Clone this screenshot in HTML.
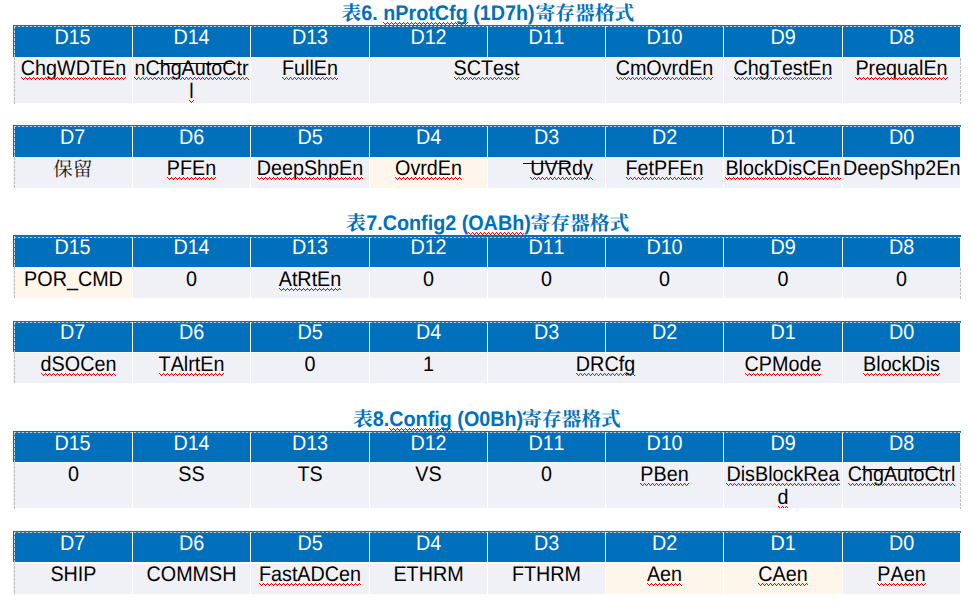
<!DOCTYPE html>
<html><head><meta charset="utf-8"><title>Register formats</title><style>
html,body{margin:0;padding:0;background:#fff;}
body{width:971px;height:603px;position:relative;overflow:hidden;font-family:"Liberation Sans",sans-serif;font-size:19.75px;line-height:24px;color:#000;font-kerning:none;font-variant-ligatures:none;text-rendering:geometricPrecision;}
.a{position:absolute;}
.h{position:absolute;background:#006FBC;}
.ht{position:absolute;text-align:center;color:#fff;white-space:nowrap;height:24px;}
.b{position:absolute;background:#F0F1F6;overflow:hidden;}
.cr{background:#FEF6EA;}
.l{position:absolute;left:0;width:100%;height:24px;text-align:center;white-space:nowrap;}
.s{display:inline-block;height:24px;transform:scaleY(1.07);transform-origin:0 18.84px;}
.w{position:relative;display:inline-block;height:24px;vertical-align:top;}
.w>i{position:absolute;left:0;top:20.04px;width:100%;height:3px;background:linear-gradient(90deg,#f00 1px,transparent 1px) 0 0/4px 1px repeat-x,linear-gradient(90deg,#f00 1px,transparent 1px) 1px 1px/4px 1px repeat-x,linear-gradient(90deg,#f00 1px,transparent 1px) 2px 2px/4px 1px repeat-x,linear-gradient(90deg,#f00 1px,transparent 1px) 3px 1px/4px 1px repeat-x;}
.t{position:absolute;left:0;width:974.8px;height:24px;text-align:center;white-space:nowrap;color:#006FBC;font-weight:bold;}
.t .s{vertical-align:top;white-space:pre;}
.g{display:inline-block;vertical-align:top;overflow:visible;height:24px;line-height:24px;font-size:19.75px;white-space:nowrap;text-align:left;font-family:"Liberation Serif","Noto Serif CJK SC",serif;}
.ln{position:absolute;height:1px;background:#111;z-index:6;}
.dt{position:absolute;height:1px;z-index:5;background:repeating-linear-gradient(90deg,rgba(240,228,208,.8) 0 2px,rgba(255,255,255,.13) 2.4px 3.6px,rgba(240,228,208,.8) 4px);}
.dl{position:absolute;width:1px;z-index:5;background:repeating-linear-gradient(180deg,#bcbcbc 0 2.7px,transparent 2.7px 4px);}
.dlw{position:absolute;width:1px;z-index:5;background:repeating-linear-gradient(180deg,rgba(240,228,208,.8) 0 2.6px,rgba(255,255,255,.13) 2.9px 3.7px,rgba(240,228,208,.8) 4px);}
.v{position:absolute;width:1px;background:#fff;z-index:3;}
</style></head><body>
<div class="h" style="left:13px;top:25px;width:947px;height:32px"></div>
<div class="ht" style="left:13px;top:26px;width:119px"><span class="s">D15</span></div>
<div class="ht" style="left:133px;top:26px;width:117px"><span class="s">D14</span></div>
<div class="ht" style="left:251px;top:26px;width:118px"><span class="s">D13</span></div>
<div class="ht" style="left:370px;top:26px;width:117px"><span class="s">D12</span></div>
<div class="ht" style="left:488px;top:26px;width:117px"><span class="s">D11</span></div>
<div class="ht" style="left:606px;top:26px;width:117px"><span class="s">D10</span></div>
<div class="ht" style="left:724px;top:26px;width:118px"><span class="s">D9</span></div>
<div class="ht" style="left:843px;top:26px;width:117px"><span class="s">D8</span></div>
<div class="v" style="left:132px;top:26px;height:77px"></div>
<div class="v" style="left:250px;top:26px;height:77px"></div>
<div class="v" style="left:369px;top:26px;height:77px"></div>
<div class="v" style="left:487px;top:26px;height:77px"></div>
<div class="v" style="left:605px;top:26px;height:77px"></div>
<div class="v" style="left:723px;top:26px;height:77px"></div>
<div class="v" style="left:842px;top:26px;height:77px"></div>
<div class="b" style="left:13px;top:58px;width:119px;height:45px;z-index:1"><div class="l" style="top:-1px;left:1px"><span class="w"><span class="s">ChgWDTEn</span><i></i></span></div></div>
<div class="b" style="left:133px;top:58px;width:117px;height:45px;z-index:1"><div class="l" style="top:-1px"><span class="w"><span class="s">nChgAutoCtr</span><i></i></span></div><div class="l" style="top:22px"><span class="w"><span class="s">l</span><i></i></span></div></div>
<div class="b" style="left:251px;top:58px;width:118px;height:45px;z-index:1"><div class="l" style="top:-1px"><span class="w"><span class="s">FullEn</span><i></i></span></div></div>
<div class="b" style="left:370px;top:58px;width:235px;height:45px;z-index:4"><div class="l" style="top:-1px;left:-1px"><span class="w"><span class="s">SCTest</span><i></i></span></div></div>
<div class="b" style="left:606px;top:58px;width:117px;height:45px;z-index:1"><div class="l" style="top:-1px"><span class="w"><span class="s">CmOvrdEn</span><i></i></span></div></div>
<div class="b" style="left:724px;top:58px;width:118px;height:45px;z-index:1"><div class="l" style="top:-1px"><span class="w"><span class="s">ChgTestEn</span><i></i></span></div></div>
<div class="b" style="left:843px;top:58px;width:117px;height:45px;z-index:1"><div class="l" style="top:-1px"><span class="w"><span class="s">PrequalEn</span><i></i></span></div></div>
<div class="dt" style="left:14px;top:26px;width:947px"></div>
<div class="dlw" style="left:14px;top:26px;height:31px"></div>
<div class="dl" style="left:14px;top:57px;height:47px"></div>
<div class="dl" style="left:960px;top:58px;height:46px"></div>
<div class="h" style="left:960px;top:25px;width:1px;height:2px"></div>
<div class="h" style="left:13px;top:125px;width:947px;height:32px"></div>
<div class="ht" style="left:13px;top:126px;width:119px"><span class="s">D7</span></div>
<div class="ht" style="left:133px;top:126px;width:117px"><span class="s">D6</span></div>
<div class="ht" style="left:251px;top:126px;width:118px"><span class="s">D5</span></div>
<div class="ht" style="left:370px;top:126px;width:117px"><span class="s">D4</span></div>
<div class="ht" style="left:488px;top:126px;width:117px"><span class="s">D3</span></div>
<div class="ht" style="left:606px;top:126px;width:117px"><span class="s">D2</span></div>
<div class="ht" style="left:724px;top:126px;width:118px"><span class="s">D1</span></div>
<div class="ht" style="left:843px;top:126px;width:117px"><span class="s">D0</span></div>
<div class="v" style="left:132px;top:126px;height:62px"></div>
<div class="v" style="left:250px;top:126px;height:62px"></div>
<div class="v" style="left:369px;top:126px;height:62px"></div>
<div class="v" style="left:487px;top:126px;height:62px"></div>
<div class="v" style="left:605px;top:126px;height:62px"></div>
<div class="v" style="left:723px;top:126px;height:62px"></div>
<div class="v" style="left:842px;top:126px;height:62px"></div>
<div class="b" style="left:13px;top:158px;width:119px;height:30px;z-index:1"><div class="l" style="top:-1px;left:0.3px"><span class="g" style="width:39.5px;color:#1c1c1c;font-weight:normal;position:relative;top:1.1px">保留</span></div></div>
<div class="b" style="left:133px;top:158px;width:117px;height:30px;z-index:1"><div class="l" style="top:-1px"><span class="w"><span class="s">PFEn</span><i></i></span></div></div>
<div class="b" style="left:251px;top:158px;width:118px;height:30px;z-index:1"><div class="l" style="top:-1px"><span class="w"><span class="s">DeepShpEn</span><i></i></span></div></div>
<div class="b cr" style="left:370px;top:158px;width:117px;height:30px;z-index:1"><div class="l" style="top:-1px"><span class="w"><span class="s">OvrdEn</span><i></i></span></div></div>
<div class="b" style="left:488px;top:158px;width:117px;height:30px;z-index:1"><div class="l" style="top:-1px;left:15px"><span class="w"><span class="s">UVRdy</span><i></i></span></div></div>
<div class="b" style="left:606px;top:158px;width:117px;height:30px;z-index:1"><div class="l" style="top:-1px"><span class="w"><span class="s">FetPFEn</span><i></i></span></div></div>
<div class="b" style="left:724px;top:158px;width:118px;height:30px;z-index:1"><div class="l" style="top:-1px"><span class="w"><span class="s">BlockDisCEn</span><i></i></span></div></div>
<div class="b" style="left:843px;top:158px;width:117px;height:30px;z-index:1"><div class="l" style="top:-1px"><span class="s">DeepShp2En</span></div></div>
<div class="dt" style="left:14px;top:126px;width:947px"></div>
<div class="dlw" style="left:14px;top:126px;height:31px"></div>
<div class="dl" style="left:14px;top:157px;height:32px"></div>
<div class="h" style="left:960px;top:125px;width:1px;height:2px"></div>
<div class="h" style="left:13px;top:235px;width:947px;height:32px"></div>
<div class="ht" style="left:13px;top:236px;width:119px"><span class="s">D15</span></div>
<div class="ht" style="left:133px;top:236px;width:117px"><span class="s">D14</span></div>
<div class="ht" style="left:251px;top:236px;width:118px"><span class="s">D13</span></div>
<div class="ht" style="left:370px;top:236px;width:117px"><span class="s">D12</span></div>
<div class="ht" style="left:488px;top:236px;width:117px"><span class="s">D11</span></div>
<div class="ht" style="left:606px;top:236px;width:117px"><span class="s">D10</span></div>
<div class="ht" style="left:724px;top:236px;width:118px"><span class="s">D9</span></div>
<div class="ht" style="left:843px;top:236px;width:117px"><span class="s">D8</span></div>
<div class="v" style="left:132px;top:237px;height:61px"></div>
<div class="v" style="left:250px;top:237px;height:61px"></div>
<div class="v" style="left:369px;top:237px;height:61px"></div>
<div class="v" style="left:487px;top:237px;height:61px"></div>
<div class="v" style="left:605px;top:237px;height:61px"></div>
<div class="v" style="left:723px;top:237px;height:61px"></div>
<div class="v" style="left:842px;top:237px;height:61px"></div>
<div class="b cr" style="left:13px;top:268px;width:119px;height:30px;z-index:1"><div class="l" style="top:0px;left:1px"><span class="s">POR_CMD</span></div></div>
<div class="b" style="left:133px;top:268px;width:117px;height:30px;z-index:1"><div class="l" style="top:0px"><span class="s">0</span></div></div>
<div class="b" style="left:251px;top:268px;width:118px;height:30px;z-index:1"><div class="l" style="top:0px"><span class="w"><span class="s">AtRtEn</span><i></i></span></div></div>
<div class="b" style="left:370px;top:268px;width:117px;height:30px;z-index:1"><div class="l" style="top:0px"><span class="s">0</span></div></div>
<div class="b" style="left:488px;top:268px;width:117px;height:30px;z-index:1"><div class="l" style="top:0px"><span class="s">0</span></div></div>
<div class="b" style="left:606px;top:268px;width:117px;height:30px;z-index:1"><div class="l" style="top:0px"><span class="s">0</span></div></div>
<div class="b" style="left:724px;top:268px;width:118px;height:30px;z-index:1"><div class="l" style="top:0px"><span class="s">0</span></div></div>
<div class="b" style="left:843px;top:268px;width:117px;height:30px;z-index:1"><div class="l" style="top:0px"><span class="s">0</span></div></div>
<div class="dt" style="left:14px;top:237px;width:947px"></div>
<div class="dlw" style="left:14px;top:236px;height:31px"></div>
<div class="dl" style="left:14px;top:267px;height:32px"></div>
<div class="dl" style="left:960px;top:268px;height:31px"></div>
<div class="h" style="left:960px;top:235px;width:1px;height:2px"></div>
<div class="h" style="left:13px;top:321px;width:947px;height:31px"></div>
<div class="ht" style="left:13px;top:321px;width:119px"><span class="s">D7</span></div>
<div class="ht" style="left:133px;top:321px;width:117px"><span class="s">D6</span></div>
<div class="ht" style="left:251px;top:321px;width:118px"><span class="s">D5</span></div>
<div class="ht" style="left:370px;top:321px;width:117px"><span class="s">D4</span></div>
<div class="ht" style="left:488px;top:321px;width:117px"><span class="s">D3</span></div>
<div class="ht" style="left:606px;top:321px;width:117px"><span class="s">D2</span></div>
<div class="ht" style="left:724px;top:321px;width:118px"><span class="s">D1</span></div>
<div class="ht" style="left:843px;top:321px;width:117px"><span class="s">D0</span></div>
<div class="v" style="left:132px;top:322px;height:61px"></div>
<div class="v" style="left:250px;top:322px;height:61px"></div>
<div class="v" style="left:369px;top:322px;height:61px"></div>
<div class="v" style="left:487px;top:322px;height:61px"></div>
<div class="v" style="left:605px;top:322px;height:61px"></div>
<div class="v" style="left:723px;top:322px;height:61px"></div>
<div class="v" style="left:842px;top:322px;height:61px"></div>
<div class="b" style="left:13px;top:353px;width:119px;height:30px;z-index:1"><div class="l" style="top:0px;left:6px"><span class="w"><span class="s">dSOCen</span><i></i></span></div></div>
<div class="b" style="left:133px;top:353px;width:117px;height:30px;z-index:1"><div class="l" style="top:0px"><span class="w"><span class="s">TAlrtEn</span><i></i></span></div></div>
<div class="b" style="left:251px;top:353px;width:118px;height:30px;z-index:1"><div class="l" style="top:0px"><span class="s">0</span></div></div>
<div class="b" style="left:370px;top:353px;width:117px;height:30px;z-index:1"><div class="l" style="top:0px"><span class="s">1</span></div></div>
<div class="b" style="left:488px;top:353px;width:235px;height:30px;z-index:4"><div class="l" style="top:0px"><span class="w"><span class="s">DRCfg</span><i></i></span></div></div>
<div class="b" style="left:724px;top:353px;width:118px;height:30px;z-index:1"><div class="l" style="top:0px"><span class="w"><span class="s">CPMode</span><i></i></span></div></div>
<div class="b" style="left:843px;top:353px;width:117px;height:30px;z-index:1"><div class="l" style="top:0px"><span class="w"><span class="s">BlockDis</span><i></i></span></div></div>
<div class="dt" style="left:14px;top:322px;width:947px"></div>
<div class="dlw" style="left:14px;top:322px;height:30px"></div>
<div class="dl" style="left:14px;top:352px;height:32px"></div>
<div class="h" style="left:960px;top:321px;width:1px;height:2px"></div>
<div class="h" style="left:13px;top:431px;width:947px;height:31px"></div>
<div class="ht" style="left:13px;top:432px;width:119px"><span class="s">D15</span></div>
<div class="ht" style="left:133px;top:432px;width:117px"><span class="s">D14</span></div>
<div class="ht" style="left:251px;top:432px;width:118px"><span class="s">D13</span></div>
<div class="ht" style="left:370px;top:432px;width:117px"><span class="s">D12</span></div>
<div class="ht" style="left:488px;top:432px;width:117px"><span class="s">D11</span></div>
<div class="ht" style="left:606px;top:432px;width:117px"><span class="s">D10</span></div>
<div class="ht" style="left:724px;top:432px;width:118px"><span class="s">D9</span></div>
<div class="ht" style="left:843px;top:432px;width:117px"><span class="s">D8</span></div>
<div class="v" style="left:132px;top:432px;height:76px"></div>
<div class="v" style="left:250px;top:432px;height:76px"></div>
<div class="v" style="left:369px;top:432px;height:76px"></div>
<div class="v" style="left:487px;top:432px;height:76px"></div>
<div class="v" style="left:605px;top:432px;height:76px"></div>
<div class="v" style="left:723px;top:432px;height:76px"></div>
<div class="v" style="left:842px;top:432px;height:76px"></div>
<div class="b" style="left:13px;top:463px;width:119px;height:45px;z-index:1"><div class="l" style="top:0px;left:1px"><span class="s">0</span></div></div>
<div class="b" style="left:133px;top:463px;width:117px;height:45px;z-index:1"><div class="l" style="top:0px"><span class="s">SS</span></div></div>
<div class="b" style="left:251px;top:463px;width:118px;height:45px;z-index:1"><div class="l" style="top:0px"><span class="s">TS</span></div></div>
<div class="b" style="left:370px;top:463px;width:117px;height:45px;z-index:1"><div class="l" style="top:0px"><span class="s">VS</span></div></div>
<div class="b" style="left:488px;top:463px;width:117px;height:45px;z-index:1"><div class="l" style="top:0px"><span class="s">0</span></div></div>
<div class="b" style="left:606px;top:463px;width:117px;height:45px;z-index:1"><div class="l" style="top:0px"><span class="w"><span class="s">PBen</span><i></i></span></div></div>
<div class="b" style="left:724px;top:463px;width:118px;height:45px;z-index:1"><div class="l" style="top:0px"><span class="w"><span class="s">DisBlockRea</span><i></i></span></div><div class="l" style="top:23px"><span class="w"><span class="s">d</span><i></i></span></div></div>
<div class="b" style="left:843px;top:463px;width:117px;height:45px;z-index:1"><div class="l" style="top:0px"><span class="w"><span class="s">ChgAutoCtrl</span><i></i></span></div></div>
<div class="dt" style="left:14px;top:432px;width:947px"></div>
<div class="dlw" style="left:14px;top:432px;height:30px"></div>
<div class="dl" style="left:14px;top:462px;height:47px"></div>
<div class="dl" style="left:960px;top:463px;height:46px"></div>
<div class="h" style="left:960px;top:431px;width:1px;height:2px"></div>
<div class="h" style="left:13px;top:531px;width:947px;height:31px"></div>
<div class="ht" style="left:13px;top:532px;width:119px"><span class="s">D7</span></div>
<div class="ht" style="left:133px;top:532px;width:117px"><span class="s">D6</span></div>
<div class="ht" style="left:251px;top:532px;width:118px"><span class="s">D5</span></div>
<div class="ht" style="left:370px;top:532px;width:117px"><span class="s">D4</span></div>
<div class="ht" style="left:488px;top:532px;width:117px"><span class="s">D3</span></div>
<div class="ht" style="left:606px;top:532px;width:117px"><span class="s">D2</span></div>
<div class="ht" style="left:724px;top:532px;width:118px"><span class="s">D1</span></div>
<div class="ht" style="left:843px;top:532px;width:117px"><span class="s">D0</span></div>
<div class="v" style="left:132px;top:532px;height:62px"></div>
<div class="v" style="left:250px;top:532px;height:62px"></div>
<div class="v" style="left:369px;top:532px;height:62px"></div>
<div class="v" style="left:487px;top:532px;height:62px"></div>
<div class="v" style="left:605px;top:532px;height:62px"></div>
<div class="v" style="left:723px;top:532px;height:62px"></div>
<div class="v" style="left:842px;top:532px;height:62px"></div>
<div class="b" style="left:13px;top:564px;width:119px;height:30px;z-index:1"><div class="l" style="top:-1px;left:1px"><span class="s">SHIP</span></div></div>
<div class="b" style="left:133px;top:564px;width:117px;height:30px;z-index:1"><div class="l" style="top:-1px"><span class="s">COMMSH</span></div></div>
<div class="b" style="left:251px;top:564px;width:118px;height:30px;z-index:1"><div class="l" style="top:-1px"><span class="w"><span class="s">FastADCen</span><i></i></span></div></div>
<div class="b" style="left:370px;top:564px;width:117px;height:30px;z-index:1"><div class="l" style="top:-1px"><span class="s">ETHRM</span></div></div>
<div class="b" style="left:488px;top:564px;width:117px;height:30px;z-index:1"><div class="l" style="top:-1px"><span class="s">FTHRM</span></div></div>
<div class="b cr" style="left:606px;top:564px;width:117px;height:30px;z-index:1"><div class="l" style="top:-1px"><span class="w"><span class="s">Aen</span><i></i></span></div></div>
<div class="b cr" style="left:724px;top:564px;width:118px;height:30px;z-index:1"><div class="l" style="top:-1px"><span class="w"><span class="s">CAen</span><i></i></span></div></div>
<div class="b" style="left:843px;top:564px;width:117px;height:30px;z-index:1"><div class="l" style="top:-1px"><span class="w"><span class="s">PAen</span><i></i></span></div></div>
<div class="dt" style="left:14px;top:532px;width:947px"></div>
<div class="dlw" style="left:14px;top:532px;height:30px"></div>
<div class="dl" style="left:14px;top:562px;height:33px"></div>
<div class="h" style="left:960px;top:531px;width:1px;height:2px"></div>
<div class="t" style="top:2px;left:0px"><span class="g" style="width:19.75px;margin-left:1px;margin-right:0px;position:relative;top:-0.5px">表</span><span class="s">6. </span><span class="w"><span class="s">nProtCfg</span><i></i></span><span class="s"> (1D7h)</span><span class="g" style="width:98.75px;margin-left:0.8px;margin-right:0px;position:relative;top:-0.5px">寄存器格式</span></div>
<div class="t" style="top:212.1px;left:-0.3px"><span class="g" style="width:19.75px;margin-left:1px;margin-right:0.5px;position:relative;top:-0.5px">表</span><span class="s">7.Config2 (</span><span class="w"><span class="s">OABh</span><i></i></span><span class="s">)</span><span class="g" style="width:98.75px;margin-left:-0.3px;margin-right:0px;position:relative;top:-0.5px">寄存器格式</span></div>
<div class="t" style="top:408.2px;left:-1px"><span class="g" style="width:19.75px;margin-left:1px;margin-right:0px;position:relative;top:-0.5px">表</span><span class="s">8.</span><span class="w"><span class="s">Config</span><i></i></span><span class="s"> (O0Bh)</span><span class="g" style="width:98.75px;margin-left:-1.2px;margin-right:0px;position:relative;top:-0.5px">寄存器格式</span></div>
<div class="ln" style="left:157.5px;top:63px;width:74px"></div>
<div class="ln" style="left:523px;top:163px;width:45.5px"></div>
<div class="ln" style="left:862px;top:469px;width:77px"></div>
</body></html>
